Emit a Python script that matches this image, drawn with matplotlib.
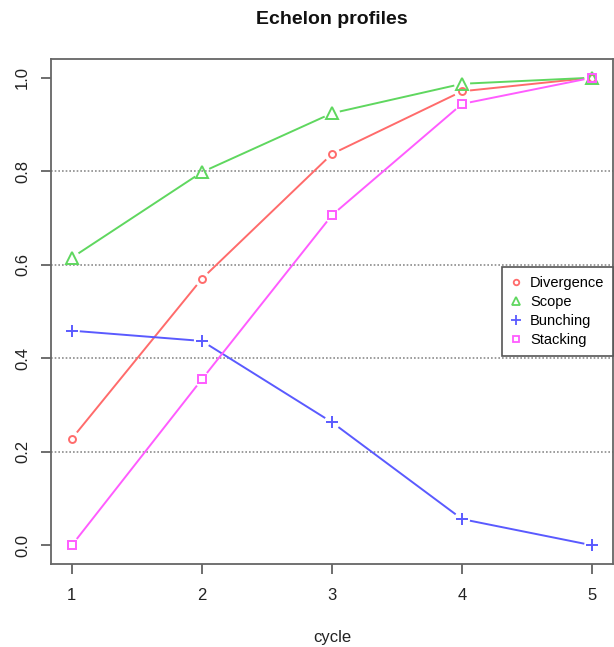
import numpy as np
import matplotlib.pyplot as plt
from matplotlib.lines import Line2D

plt.rcParams["font.family"] = ["Liberation Sans", "DejaVu Sans"]

cycle = [1, 2, 3, 4, 5]
divergence = [0.228, 0.570, 0.837, 0.971, 1.0]
scope = [0.615, 0.798, 0.924, 0.987, 1.0]
bunching = [0.459, 0.437, 0.263, 0.056, 0.0]
stacking = [0.0, 0.355, 0.706, 0.944, 1.0]
series_names = ["Divergence", "Scope", "Bunching", "Stacking"]
y_ticks = [0.0, 0.2, 0.4, 0.6, 0.8, 1.0]
grid_levels = [0.2, 0.4, 0.6, 0.8]

styles = [
    ("#ff6b6b", "o", 5),
    ("#5fd75f", "^", 8),
    ("#5a5aff", "+", 9),
    ("#ff5cff", "s", 6),
]
GAP_PX = 8  # gap between line and point, like R type="b"

fig = plt.figure(figsize=(6.14, 6.47), dpi=100)
ax = fig.add_axes([51 / 614, 83 / 647, 562 / 614, 505 / 647])
ax.set_xlim(0.84, 5.16)
ax.set_ylim(-0.04, 1.04)

for lvl in grid_levels:
    ax.axhline(lvl, color="#8c8c8c", linestyle=(0, (1, 1.2)), linewidth=1.2, zorder=1)


def draw_gapped(xs, ys, color):
    pts = ax.transData.transform(np.column_stack([xs, ys]))
    inv = ax.transData.inverted()
    for p0, p1 in zip(pts[:-1], pts[1:]):
        d = p1 - p0
        length = np.hypot(*d)
        if length <= 2 * GAP_PX:
            continue
        u = d / length
        a = inv.transform(p0 + u * GAP_PX)
        b = inv.transform(p1 - u * GAP_PX)
        ax.plot([a[0], b[0]], [a[1], b[1]], color=color, linewidth=1.4,
                solid_capstyle="butt", zorder=2)


all_series = [divergence, scope, bunching, stacking]
for vals, (col, mk, ms) in zip(all_series, styles):
    draw_gapped(cycle, vals, col)
    ax.plot(cycle, vals, linestyle="none", marker=mk, markersize=ms,
            markerfacecolor="none", markeredgecolor=col, markeredgewidth=1.4, zorder=4)

ax.set_xticks(cycle)
ax.set_xticklabels([str(c) for c in cycle], fontsize=12, color="#222222")
ax.set_yticks(y_ticks)
ax.set_yticklabels([f"{v:.1f}" for v in y_ticks], fontsize=12, color="#222222",
                   rotation=90, va="center")
ax.tick_params(axis="both", direction="out", length=7, width=1.2, color="#555555")
ax.tick_params(axis="x", pad=10)
ax.tick_params(axis="y", pad=8)
for sp in ax.spines.values():
    sp.set_color("#666666")
    sp.set_linewidth(1.3)

ax.set_xlabel("cycle", fontsize=12, color="#222222", labelpad=20)
fig.text(332 / 614, 1 - 20 / 647, "Echelon profiles", ha="center", va="center",
         fontsize=14, fontweight="bold", color="#111111")

handles = [Line2D([], [], linestyle="none", marker=mk, markersize=ms * 0.8,
                  markerfacecolor="none", markeredgecolor=col, markeredgewidth=1.3)
           for col, mk, ms in styles]
leg = ax.legend(handles, series_names, loc="center right", bbox_to_anchor=(1.0, 0.5),
                borderaxespad=0, fontsize=10.5, frameon=True, fancybox=False,
                handlelength=0.7, handletextpad=0.6, labelspacing=0.35,
                borderpad=0.6, framealpha=1)
leg.get_frame().set_edgecolor("#555555")
leg.get_frame().set_linewidth(1.2)
leg.set_zorder(5)

fig.savefig("out.png", dpi=100)
